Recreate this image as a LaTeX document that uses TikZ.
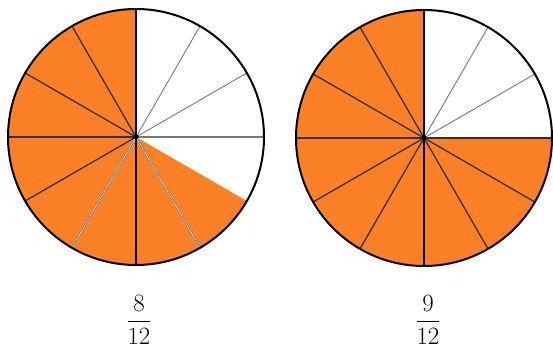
\documentclass[tikz,border=0pt]{standalone}
\definecolor{pieorange}{RGB}{252,128,38}
\definecolor{spokedark}{RGB}{50,50,50}
\definecolor{spokelight}{RGB}{120,120,120}
\begin{document}
\begin{tikzpicture}[x=1pt,y=1pt,
  rim/.style={draw=black,line width=2pt},
  spoke/.style={draw=spokedark,line width=1.3pt},
  thinspoke/.style={draw=spokelight,line width=0.9pt},
  axisspoke/.style={draw=black,line width=1.5pt},
  dashspoke/.style={draw=spokelight,line width=1.8pt},
  dashcore/.style={draw=white,line width=0.7pt,dash pattern=on 1.5pt off 1pt},
  fraclabel/.style={inner sep=0pt,font=\fontsize{30}{36}\selectfont}]
\useasboundingbox (0,0) rectangle (553,353);
\def\R{128}
% ---------- left pie: 8/12 ----------
\coordinate (L) at (136,216);
\fill[pieorange] (L) -- ++(90:\R) arc[start angle=90,end angle=330,radius=\R] -- cycle;
\foreach \a in {30,60}{\draw[thinspoke] (L) -- ++(\a:\R);}
\draw[spokelight,line width=1.1pt] (L) -- ++(0:\R);
\foreach \a in {120,150,180,210}{\draw[spoke] (L) -- ++(\a:\R);}
\foreach \a in {240,300}{\draw[dashspoke] (L) -- ++(\a:\R); \draw[dashcore] (L) -- ++(\a:\R);}
\draw[axisspoke] (L) -- ++(90:\R);
\draw[axisspoke] (L) -- ++(270:\R);
\draw[rim] (L) circle[radius=\R];
\fill[black] (L) circle[radius=2.5];
% ---------- right pie: 9/12 ----------
\coordinate (Rc) at (424,215);
\fill[pieorange] (Rc) -- ++(90:\R) arc[start angle=90,end angle=360,radius=\R] -- cycle;
\foreach \a in {30,60}{\draw[thinspoke] (Rc) -- ++(\a:\R);}
\foreach \a in {0,120,150,180,210,240,300,330}{\draw[spoke] (Rc) -- ++(\a:\R);}
\draw[axisspoke] (Rc) -- ++(90:\R);
\draw[axisspoke] (Rc) -- ++(270:\R);
\draw[rim] (Rc) circle[radius=\R];
\fill[black] (Rc) circle[radius=2.5];
% ---------- labels ----------
\node[fraclabel] (f8) at (139,33) {$\displaystyle\frac{8}{12}$};
\node[fraclabel] (f9) at (428,33) {$\displaystyle\frac{9}{12}$};
\end{tikzpicture}
\end{document}
